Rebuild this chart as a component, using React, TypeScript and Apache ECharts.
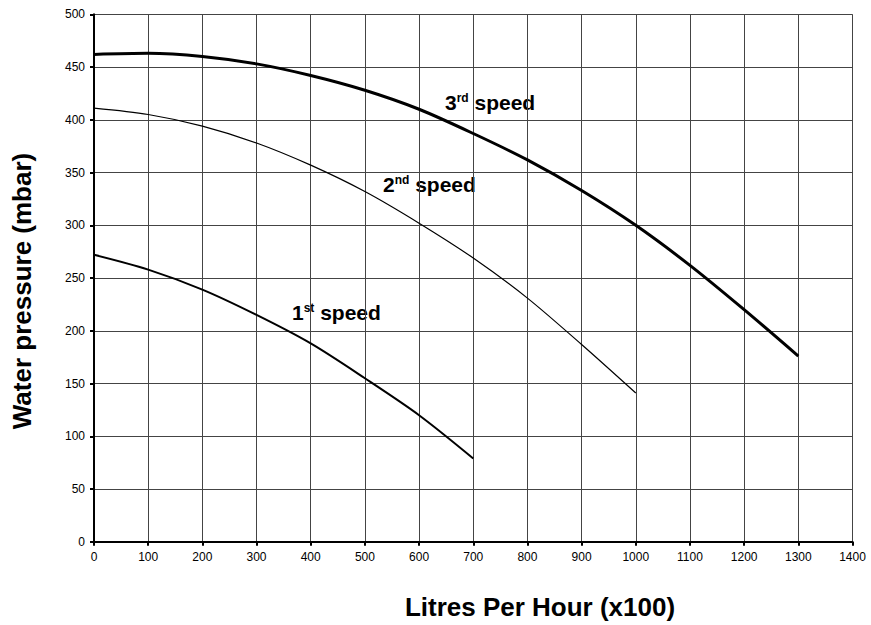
import React, { useEffect, useRef } from "react";
import * as echarts from "echarts";

const xTicks = [0, 1400, 100];
const yTicks = [0, 500, 50];

const speed3 = [
  [0, 462], [100, 463], [200, 460], [300, 453], [400, 442], [500, 428], [600, 410],
  [700, 387], [800, 362], [900, 333], [1000, 300], [1100, 262], [1200, 220], [1300, 176],
];
const speed2 = [
  [0, 411], [100, 405], [200, 394], [300, 378], [400, 357], [500, 332], [600, 302],
  [700, 269], [800, 231], [900, 187], [1000, 141],
];
const speed1 = [
  [0, 272], [100, 258], [200, 239], [300, 215], [400, 188], [500, 155], [600, 120], [700, 79],
];

const labels = [
  { num: "3", sup: "rd", x: 445, y: 113 },
  { num: "2", sup: "nd", x: 383, y: 195 },
  { num: "1", sup: "st", x: 292, y: 323 },
];

const xTitle = "Litres Per Hour (x100)";
const yTitle = "Water pressure (mbar)";

const FONT = "'Liberation Sans', Arial, Helvetica, sans-serif";

export default function App() {
  const ref = useRef<HTMLDivElement>(null);
  useEffect(() => {
    document.body.style.margin = "0";
    const chart = echarts.init(ref.current!, null, { renderer: "svg" });
    const axisCommon = {
      type: "value" as const,
      axisLine: { show: true, lineStyle: { color: "#000", width: 2 } },
      axisTick: { show: true, inside: false, length: 4, lineStyle: { color: "#000", width: 2 } },
      splitLine: { show: true, lineStyle: { color: "#444", width: 1 } },
      axisLabel: { color: "#000", fontSize: 12, fontFamily: FONT },
    };
    chart.setOption({
      animation: false,
      backgroundColor: "#fff",
      grid: { left: 94, right: 18.5, top: 14.3, bottom: 83.2, containLabel: false },
      xAxis: {
        ...axisCommon,
        min: xTicks[0],
        max: xTicks[1],
        interval: xTicks[2],
        axisLabel: { ...axisCommon.axisLabel, margin: 9, formatter: (v: number) => String(v) },
      },
      yAxis: {
        ...axisCommon,
        min: yTicks[0],
        max: yTicks[1],
        interval: yTicks[2],
        axisLabel: { ...axisCommon.axisLabel, margin: 9, formatter: (v: number) => String(v) },
      },
      series: [
        { type: "line", data: speed3, smooth: 0.3, symbol: "none", lineStyle: { color: "#000", width: 3 } },
        { type: "line", data: speed2, smooth: 0.3, symbol: "none", lineStyle: { color: "#000", width: 1.2 } },
        { type: "line", data: speed1, smooth: 0.3, symbol: "none", lineStyle: { color: "#000", width: 2 } },
      ],
      graphic: [
        ...labels.map((l) => ({
          type: "text",
          x: l.x,
          y: l.y,
          style: {
            text: `{n|${l.num}}{s|${l.sup}}{t| speed}`,
            verticalAlign: "bottom",
            rich: {
              n: { fontSize: 21, fontWeight: "bold", fontFamily: FONT, fill: "#000", lineHeight: 21 },
              s: { fontSize: 12, fontWeight: "bold", fontFamily: FONT, fill: "#000", lineHeight: 21, verticalAlign: "top", padding: [0, 0, 8, 0] },
              t: { fontSize: 21, fontWeight: "bold", fontFamily: FONT, fill: "#000", lineHeight: 21 },
            },
          },
        })),
        {
          type: "text",
          x: 540,
          y: 607,
          style: {
            text: xTitle,
            align: "center",
            verticalAlign: "middle",
            fontSize: 26,
            fontWeight: "bold",
            fontFamily: FONT,
            fill: "#000",
          },
        },
        {
          type: "text",
          x: 22,
          y: 291,
          rotation: Math.PI / 2,
          style: {
            text: yTitle,
            align: "center",
            verticalAlign: "middle",
            fontSize: 26,
            fontWeight: "bold",
            fontFamily: FONT,
            fill: "#000",
          },
        },
      ],
    });
    return () => chart.dispose();
  }, []);
  return <div ref={ref} style={{ width: 871, height: 625 }} />;
}
